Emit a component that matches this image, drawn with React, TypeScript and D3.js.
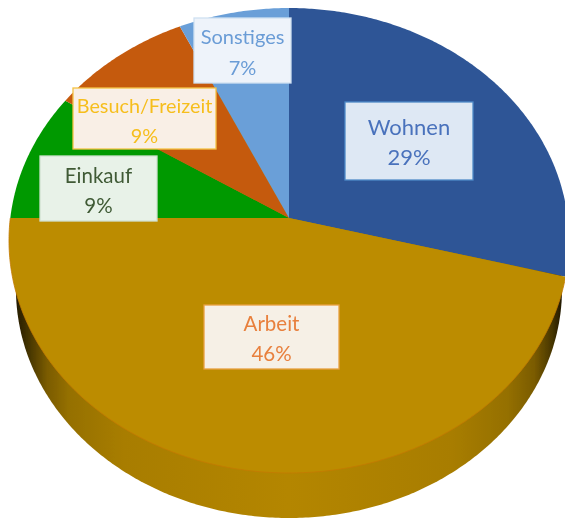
import React from "react";
import * as d3 from "d3";

const categories = ["Wohnen", "Arbeit", "Einkauf", "Besuch/Freizeit", "Sonstiges"];
const shares = [29, 46, 9, 9, 7];
const sliceColors = ["#2D5596", "#BC8C00", "#009900", "#C55A11", "#6A9FD8"];
const textColors = ["#4A72BC", "#E8803E", "#3F5A35", "#F6BE1E", "#6A9CD6"];
const boxFills = ["#DEE8F4", "#F6F0E6", "#E8F2E8", "#F9EFE6", "#EEF3FA"];
const boxStrokes = ["#4F8AC8", "#E8A040", "#CFE0CF", "#F5C242", "#CFE0F2"];
const boxes = [
  [345, 102, 128, 78],
  [204, 305, 135, 64],
  [40, 156, 117, 65],
  [73, 88, 143, 61],
  [194, 18, 97, 65],
];
const lineY = [
  [135, 165],
  [331, 361],
  [183, 213],
  [113, 143],
  [44, 75],
];
const labelSizes = [22, 20.5, 20.5, 19.8, 20];

const W = 565;
const H = 518;
const apexX = 289;
const apexY = 218;
const tilt = 0.0968;
const sx = 278.7;
const sy = 230.3;
const topCx = 288;
const topCy = 240.5;
const baseCy = 289;
const baseScaleX = 273 / 280;
const baseScaleY = 229 / 232.5;

// Perspective view of the unit disc: the pie centre lands on the apex.
const project = (angle: number): [number, number] => {
  const u = Math.sin(angle);
  const v = -Math.cos(angle);
  const d = 1 - tilt * v;
  return [apexX + (sx * u) / d, apexY + (sy * v) / d];
};

const sample = (a0: number, a1: number) => {
  const n = Math.max(2, Math.ceil(Math.abs(a1 - a0) / 0.01));
  return d3.range(n + 1).map((i) => a0 + ((a1 - a0) * i) / n);
};

const line = d3.line<[number, number]>();

export default function App() {
  const arcs = d3.pie<number>().sort(null)(shares);
  const base = sample(0, 2 * Math.PI)
    .map((a) => project(a))
    .map(
      ([x, y]) =>
        [topCx + (x - topCx) * baseScaleX, baseCy + (y - topCy) * baseScaleY] as [number, number]
    );
  const arbeit = arcs[1];

  return (
    <svg
      width={W}
      height={H}
      viewBox={`0 0 ${W} ${H}`}
      style={{ position: "absolute", left: 0, top: 0, background: "#fff" }}
    >
      <defs>
        <linearGradient id="side" gradientUnits="userSpaceOnUse" x1={14} x2={562} y1={0} y2={0}>
          <stop offset="0" stopColor="#1F1800" />
          <stop offset="0.03" stopColor="#4A3800" />
          <stop offset="0.06" stopColor="#7A5B00" />
          <stop offset="0.1" stopColor="#957000" />
          <stop offset="0.2" stopColor="#A87D00" />
          <stop offset="0.5" stopColor="#B48600" />
          <stop offset="0.8" stopColor="#A87D00" />
          <stop offset="0.9" stopColor="#957000" />
          <stop offset="0.95" stopColor="#7A5B00" />
          <stop offset="0.98" stopColor="#4A3800" />
          <stop offset="1" stopColor="#1F1800" />
        </linearGradient>
        <filter id="soft" x="-5%" y="-5%" width="110%" height="110%">
          <feGaussianBlur stdDeviation="0.45" />
        </filter>
      </defs>
      <g filter="url(#soft)">
        <path d={`${line(base)}Z`} fill="url(#side)" />
        {arcs.map((a, i) => {
          const pts: [number, number][] = [
            [apexX, apexY],
            ...sample(a.startAngle, a.endAngle).map((t) => project(t)),
          ];
          return <path key={categories[i]} d={`${line(pts)}Z`} fill={sliceColors[i]} />;
        })}
        <path
          d={line(sample(arbeit.startAngle, arbeit.endAngle).map((t) => project(t)))!}
          fill="none"
          stroke="#C47A08"
          strokeWidth={0.8}
        />
        {categories.map((c, i) => {
          const [x, y, w, h] = boxes[i];
          const cx = x + w / 2;
          return (
            <g key={c}>
              <rect x={x} y={y} width={w} height={h} fill={boxFills[i]} stroke={boxStrokes[i]} strokeWidth={1.3} />
              <text x={cx} y={lineY[i][0]} textAnchor="middle" fontFamily="Lato" fontSize={labelSizes[i]} fill={textColors[i]}>
                {c}
              </text>
              <text x={cx} y={lineY[i][1]} textAnchor="middle" fontFamily="Lato" fontSize={labelSizes[i]} fill={textColors[i]}>
                {`${shares[i]}%`}
              </text>
            </g>
          );
        })}
      </g>
    </svg>
  );
}
